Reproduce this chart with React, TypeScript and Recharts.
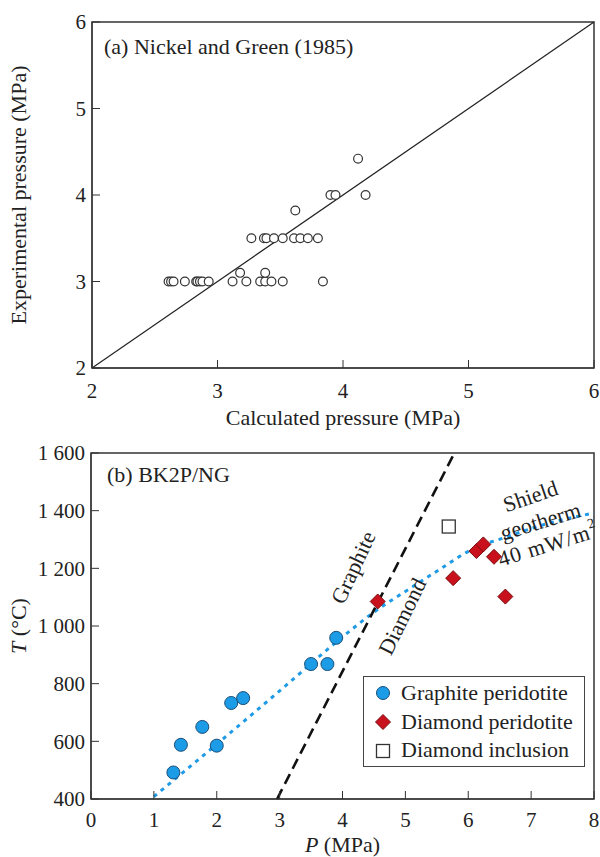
import React from 'react'
import {
  ComposedChart,
  Scatter,
  Line,
  XAxis,
  YAxis,
  ReferenceArea,
  ReferenceLine,
  ReferenceDot,
  Legend,
} from 'recharts'

const FONT = '"Liberation Serif", "Times New Roman", serif'
const INK = '#222'

// (a) Nickel and Green (1985): calculated vs experimental pressure
const calcPressure = [
  2.61, 2.63, 2.65, 2.74, 2.83, 2.84, 2.86, 2.88, 2.93, 3.12, 3.23, 3.34, 3.38, 3.43, 3.52, 3.84,
  3.18, 3.38,
  3.27, 3.37, 3.39, 3.45, 3.52, 3.61, 3.66, 3.72, 3.8,
  3.62, 3.9, 3.94, 4.18, 4.12,
]
const expPressure = [
  3, 3, 3, 3, 3, 3, 3, 3, 3, 3, 3, 3, 3, 3, 3, 3,
  3.1, 3.1,
  3.5, 3.5, 3.5, 3.5, 3.5, 3.5, 3.5, 3.5, 3.5,
  3.82, 4, 4, 4, 4.42,
]
const pressureTicks = [2, 3, 4, 5, 6]

// (b) BK2P/NG: P-T estimates
const graphiteP = [1.31, 1.43, 1.77, 2.0, 2.23, 2.42, 3.5, 3.76, 3.9]
const graphiteT = [492, 588, 650, 585, 733, 750, 868, 868, 959]
const diamondP = [4.56, 5.76, 6.13, 6.24, 6.41, 6.59]
const diamondT = [1085, 1166, 1260, 1283, 1240, 1102]
const inclusionP = [5.69]
const inclusionT = [1345]
const geothermP = [1.0, 2.0, 3.0, 4.0, 4.5, 5.0, 5.5, 6.1, 6.6, 7.1, 8.0]
const geothermT = [408, 590, 775, 962, 1048, 1120, 1190, 1270, 1308, 1345, 1392]
const boundaryP = [2.96, 5.78]
const boundaryT = [400, 1600]
const pTicks = [0, 1, 2, 3, 4, 5, 6, 7, 8]
const tTicks = [400, 600, 800, 1000, 1200, 1400, 1600]

const zip = (xs: number[], ys: number[]) => xs.map((p, i) => ({ p, t: ys[i] }))

const nickelData = calcPressure.map((calc, i) => ({ calc, exp: expPressure[i] }))
const graphiteData = zip(graphiteP, graphiteT)
const diamondData = zip(diamondP, diamondT)
const inclusionData = zip(inclusionP, inclusionT)
const geothermData = zip(geothermP, geothermT)
const boundaryData = zip(boundaryP, boundaryT)

const annotations = [
  { text: 'Graphite', p: 4.17, t: 1203, angle: -65 },
  { text: 'Diamond', p: 4.95, t: 1033, angle: -64 },
  { text: 'Shield', p: 6.99, t: 1450, angle: -19 },
  { text: 'geotherm', p: 7.15, t: 1363, angle: -17 },
  { text: '40 mW/m', sup: '2', p: 7.27, t: 1283, angle: -17 },
]

const tickStyle = { fill: INK, fontSize: 21, fontFamily: FONT }

const fmtThousands = (v: number) =>
  v >= 1000 ? `${Math.floor(v / 1000)} ${String(v % 1000).padStart(3, '0')}` : String(v)

const OpenCircle = (props: any) => (
  <circle cx={props.cx} cy={props.cy} r={4.4} fill="#fff" stroke="#333" strokeWidth={1.2} />
)
const BlueDot = (props: any) => (
  <circle cx={props.cx} cy={props.cy} r={6.5} fill="#1c9be6" stroke="#1b4f78" strokeWidth={1} />
)
const RedDiamond = (props: any) => {
  const { cx, cy } = props
  const s = 7.5
  return (
    <polygon
      points={`${cx},${cy - s} ${cx + s},${cy} ${cx},${cy + s} ${cx - s},${cy}`}
      fill="#c8111d"
      stroke="#7a0d10"
      strokeWidth={1}
    />
  )
}
const OpenSquare = (props: any) => (
  <rect x={props.cx - 6.5} y={props.cy - 6.5} width={13} height={13} fill="#fff" stroke="#333" strokeWidth={1.3} />
)

const xTitle = (content: React.ReactNode, dy: number) => ({ viewBox }: any) => (
  <text x={viewBox.x + viewBox.width / 2} y={viewBox.y + dy} textAnchor="middle" fill={INK} fontSize={22} fontFamily={FONT}>
    {content}
  </text>
)

const yTitle = (content: React.ReactNode) => ({ viewBox }: any) => {
  const cx = 18
  const cy = viewBox.y + viewBox.height / 2
  return (
    <text
      x={cx}
      y={cy}
      transform={`rotate(-90 ${cx} ${cy})`}
      textAnchor="middle"
      dominantBaseline="central"
      fill={INK}
      fontSize={22}
      fontFamily={FONT}
    >
      {content}
    </text>
  )
}

const panelTitle = (text: string, dx: number, dy: number) => ({ viewBox }: any) => (
  <text x={viewBox.x + dx} y={viewBox.y + dy} fill={INK} fontSize={22} fontFamily={FONT}>
    {text}
  </text>
)

const rotatedNote = (a: (typeof annotations)[number]) => ({ viewBox }: any) => {
  const cx = viewBox.x + viewBox.width / 2
  const cy = viewBox.y + viewBox.height / 2
  return (
    <text
      x={cx}
      y={cy}
      transform={`rotate(${a.angle} ${cx} ${cy})`}
      textAnchor="middle"
      dominantBaseline="central"
      fill={INK}
      fontSize={22}
      fontFamily={FONT}
      letterSpacing={a.sup ? 1 : 0}
    >
      {a.text}
      {a.sup && (
        <tspan fontSize={14} dy={-8}>
          {a.sup}
        </tspan>
      )}
    </text>
  )
}

const legendItems = [
  { label: 'Graphite peridotite', kind: 'circle' },
  { label: 'Diamond peridotite', kind: 'diamond' },
  { label: 'Diamond inclusion', kind: 'square' },
]

const LegendMarker = ({ kind }: { kind: string }) => (
  <svg width={20} height={20} style={{ flex: 'none' }}>
    {kind === 'circle' && <BlueDot cx={10} cy={10} />}
    {kind === 'diamond' && <RedDiamond cx={10} cy={10} />}
    {kind === 'square' && <OpenSquare cx={10} cy={11} />}
  </svg>
)

const LegendBox = () => (
  <div
    style={{
      width: 222,
      height: 91,
      boxSizing: 'border-box',
      border: '1.5px solid #444',
      background: '#fff',
      padding: '2px 0 0 9px',
      fontFamily: FONT,
      fontSize: 22,
      color: INK,
    }}
  >
    {legendItems.map((it) => (
      <div key={it.label} style={{ display: 'flex', alignItems: 'center', height: 28.5, gap: 8, whiteSpace: 'nowrap' }}>
        <LegendMarker kind={it.kind} />
        <span>{it.label}</span>
      </div>
    ))}
  </div>
)

export default function App() {
  return (
    <div style={{ position: 'absolute', left: 0, top: 0, width: 600, height: 857, background: '#fff' }}>
      <ComposedChart width={600} height={430} margin={{ top: 22, right: 6, bottom: 0, left: 0 }}>
        <XAxis
          type="number"
          dataKey="calc"
          domain={[2, 6]}
          ticks={pressureTicks}
          interval={0}
          height={62}
          tickSize={-8}
          tickMargin={23}
          tick={tickStyle}
          stroke="#333"
          label={xTitle('Calculated pressure (MPa)', 57)}
        />
        <YAxis
          type="number"
          dataKey="exp"
          domain={[2, 6]}
          ticks={pressureTicks}
          interval={0}
          width={92}
          tickSize={-8}
          tickMargin={14}
          tick={tickStyle}
          stroke="#333"
          label={yTitle('Experimental pressure (MPa)')}
        />
        <ReferenceArea
          x1={2}
          x2={6}
          y1={2}
          y2={6}
          fill="none"
          fillOpacity={0}
          stroke="#333"
          strokeWidth={1.5}
          label={panelTitle('(a) Nickel and Green (1985)', 12, 32)}
        />
        <ReferenceLine segment={[{ x: 2, y: 2 }, { x: 6, y: 6 }]} stroke={INK} strokeWidth={1.2} />
        <Scatter data={nickelData} shape={OpenCircle} isAnimationActive={false} />
      </ComposedChart>

      <ComposedChart width={600} height={427} margin={{ top: 23, right: 6, bottom: 0, left: 0 }}>
        <XAxis
          type="number"
          dataKey="p"
          domain={[0, 8]}
          ticks={pTicks}
          interval={0}
          height={58}
          tickSize={-8}
          tickMargin={21}
          tick={tickStyle}
          stroke="#333"
          label={xTitle(
            <>
              <tspan fontStyle="italic">P</tspan> (MPa)
            </>,
            53
          )}
        />
        <YAxis
          type="number"
          dataKey="t"
          domain={[400, 1600]}
          ticks={tTicks}
          interval={0}
          width={91}
          tickSize={-8}
          tickMargin={14}
          tick={tickStyle}
          tickFormatter={fmtThousands}
          stroke="#333"
          label={yTitle(
            <>
              <tspan fontStyle="italic">T</tspan> (°C)
            </>
          )}
        />
        <ReferenceArea
          x1={0}
          x2={8}
          y1={400}
          y2={1600}
          fill="none"
          fillOpacity={0}
          stroke="#333"
          strokeWidth={1.5}
          label={panelTitle('(b) BK2P/NG', 16, 29)}
        />
        <Line
          data={geothermData}
          dataKey="t"
          type="monotone"
          stroke="#1f9ae6"
          strokeWidth={3}
          strokeDasharray="4 5"
          dot={false}
          legendType="none"
          isAnimationActive={false}
        />
        <Line
          data={boundaryData}
          dataKey="t"
          type="linear"
          stroke="#111"
          strokeWidth={2.6}
          strokeDasharray="11 6"
          dot={false}
          legendType="none"
          isAnimationActive={false}
        />
        <Scatter name="Graphite peridotite" data={graphiteData} shape={BlueDot} isAnimationActive={false} />
        <Scatter name="Diamond peridotite" data={diamondData} shape={RedDiamond} isAnimationActive={false} />
        <Scatter name="Diamond inclusion" data={inclusionData} shape={OpenSquare} isAnimationActive={false} />
        {annotations.map((a) => (
          <ReferenceDot key={a.text} x={a.p} y={a.t} r={0} fill="none" stroke="none" label={rotatedNote(a)} />
        ))}
        <Legend
          layout="vertical"
          align="center"
          verticalAlign="middle"
          content={() => <LegendBox />}
          wrapperStyle={{ left: 363, top: 246, width: 222 }}
        />
      </ComposedChart>
    </div>
  )
}
